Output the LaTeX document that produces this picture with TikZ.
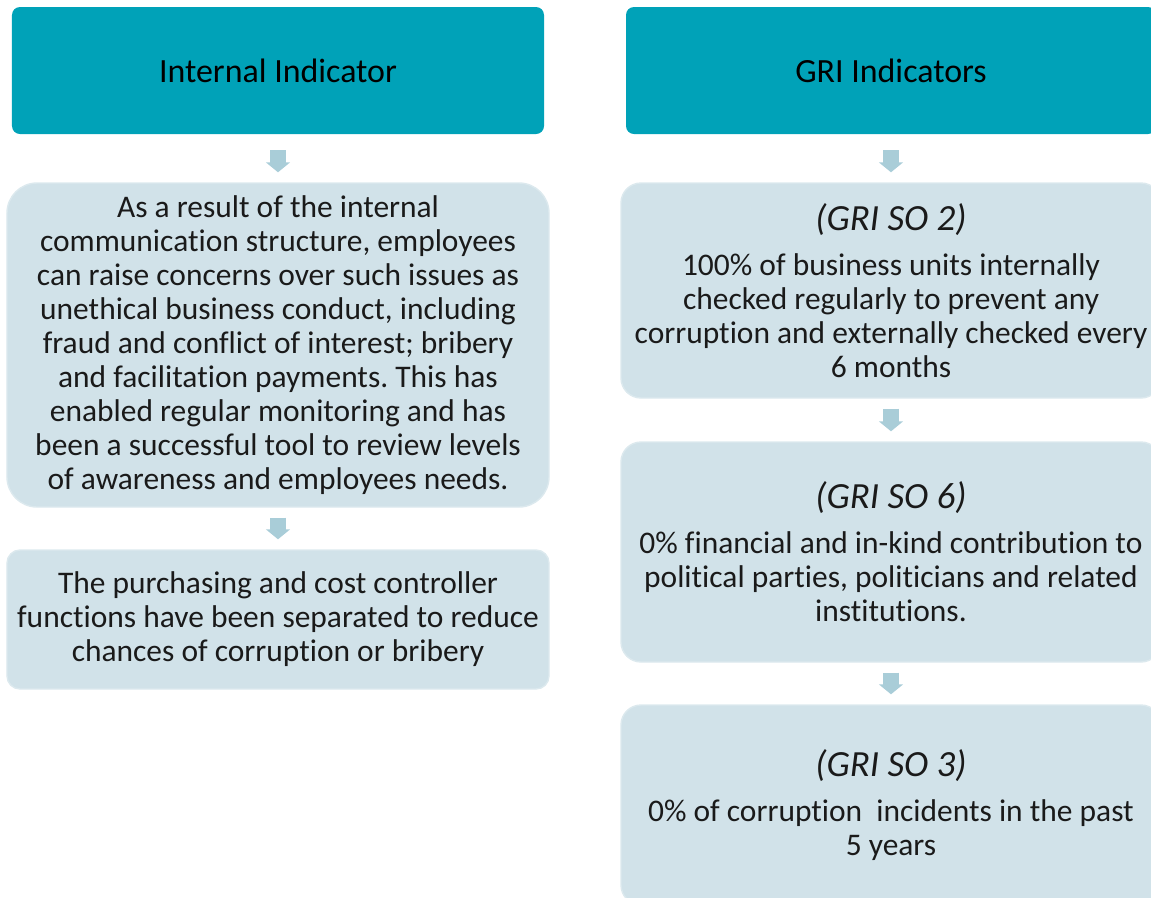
\documentclass[tikz,border=0pt]{standalone}
\usepackage{fontspec}
\setmainfont{Carlito}[Ligatures=NoCommon]
\usepackage{xcolor}
\usepackage{tikz}
\usetikzlibrary{arrows.meta}
\definecolor{tealhead}{HTML}{00A2B8}
\definecolor{boxfill}{HTML}{D1E2E9}
\definecolor{boxline}{HTML}{DCE9EE}
\definecolor{arrowfill}{HTML}{A9CDD8}
\definecolor{inktext}{HTML}{1A1A1A}
\frenchspacing
\newcommand{\grilabel}[1]{{\fontsize{21}{25}\selectfont\itshape #1}}
\tikzset{
  header/.style={rectangle, rounded corners=0.16cm, fill=tealhead, text=black,
    font=\fontsize{19.3}{23}\selectfont, minimum width=10.64cm, minimum height=2.54cm},
  infobox/.style={rectangle, fill=boxfill, draw=boxline, line width=0.8pt, align=center,
    text=inktext, font=\fontsize{17.9}{19.4}\selectfont, inner sep=0pt, minimum width=10.84cm},
  flow/.style={arrowfill, line width=9pt, -{Triangle[width=13.6pt,length=5.7pt]},
    shorten <=0.2cm, shorten >=0.2cm}
}

\begin{document}
\begin{tikzpicture}
    \useasboundingbox (0,0) rectangle (23.02,-17.94);

    \node[header](intHead) at (5.56, -1.41){Internal Indicator};
    \node[header, minimum width=10.6cm](griHead) at (17.82, -1.41){GRI Indicators};

    \node[infobox, rounded corners=0.6cm, minimum height=6.48cm](intComm) at (5.56, -6.9){As a result of the internal\\
      communication structure, employees\\ can raise concerns over such issues as\\
      unethical business conduct, including\\ fraud and conflict of interest; bribery\\
      and facilitation payments. This has\\ enabled regular monitoring and has\\
      been a successful tool to review levels\\ of awareness and employees needs.};
    \node[infobox, rounded corners=0.26cm, minimum height=2.78cm](intPurch) at (5.56, -12.39){The purchasing and cost controller\\
      functions have been separated to reduce\\ chances of corruption or bribery};

    \node[infobox, rounded corners=0.4cm, minimum width=10.8cm, minimum height=4.3cm](griTwo) at (17.82, -5.81){\grilabel{(GRI SO 2)}\\[6pt]
      100\% of business units internally\\ checked regularly to prevent any\\
      corruption and externally checked every\\ 6 months};
    \node[infobox, rounded corners=0.4cm, minimum width=10.8cm, minimum height=4.4cm](griSix) at (17.82, -11.04){\grilabel{(GRI SO 6)}\\[6pt]
      0\% financial and in-kind contribution to\\ political parties, politicians and related\\
      institutions.};
    \node[infobox, rounded corners=0.4cm, minimum width=10.8cm, minimum height=4.0cm](griThree) at (17.82, -16.1){\grilabel{(GRI SO 3)}\\[6pt]
      0\% of corruption~ incidents in the past\\ 5 years};

    \draw[flow, shorten <=0.32cm](intHead)--(intComm);
    \draw[flow](intComm)--(intPurch);
    \draw[flow, shorten <=0.32cm](griHead)--(griTwo);
    \draw[flow](griTwo)--(griSix);
    \draw[flow](griSix)--(griThree);
  \end{tikzpicture}
\end{document}
